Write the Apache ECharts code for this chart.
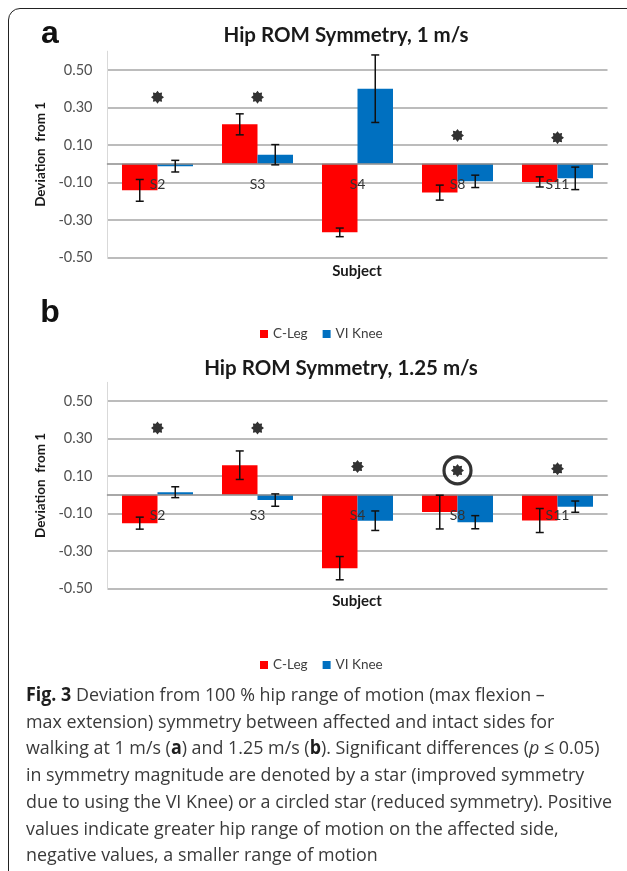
<!DOCTYPE html>
<html lang="en">
<head>
<meta charset="utf-8">
<script src="https://cdn.jsdelivr.net/npm/echarts@6/dist/echarts.min.js"></script>
<style>
  html, body { margin: 0; padding: 0; background: #fff; }
  #wrap { position: relative; width: 627px; height: 871px; overflow: hidden; }
  #chart { position: absolute; left: 0; top: 0; width: 627px; height: 680px; }
  #frame {
    position: absolute; left: 8px; top: 8px; width: 640px; height: 900px;
    border: 1.5px solid #222; border-radius: 12px; box-sizing: border-box;
  }
  #caption {
    position: absolute; left: 26px; top: 681px; white-space: nowrap;
    font-family: "Open Sans", sans-serif; font-size: 19px; line-height: 26.7px;
    color: #3a3a3a; transform-origin: 0 0;
  }
  #caption b { color: #1e1e1e; }
</style>
</head>
<body>
<div id="wrap">
  <div id="frame"></div>
  <div id="chart"></div>
  <div id="caption">
    <div><b>Fig. 3</b> Deviation from 100 % hip range of motion (max flexion –</div>
    <div>max extension) symmetry between affected and intact sides for</div>
    <div>walking at 1 m/s (<b>a</b>) and 1.25 m/s (<b>b</b>). Significant differences (<i>p</i> ≤ 0.05)</div>
    <div>in symmetry magnitude are denoted by a star (improved symmetry</div>
    <div id="longLine">due to using the VI Knee) or a circled star (reduced symmetry). Positive</div>
    <div>values indicate greater hip range of motion on the affected side,</div>
    <div>negative values, a smaller range of motion</div>
  </div>
</div>
<script>
  var categories = ['S2', 'S3', 'S4', 'S8', 'S11'];

  // panel a, 1 m/s
  var cLegA = [-0.142, 0.210, -0.366, -0.154, -0.097];
  var cLegErrA = [0.058, 0.056, 0.023, 0.040, 0.027];
  var viKneeA = [-0.013, 0.048, 0.400, -0.094, -0.078];
  var viKneeErrA = [0.031, 0.054, 0.180, 0.033, 0.060];
  var starsA = [0.355, 0.355, null, 0.151, 0.139];
  var circledA = [null, null, null, null, null];

  // panel b, 1.25 m/s
  var cLegB = [-0.151, 0.158, -0.391, -0.092, -0.137];
  var cLegErrB = [0.032, 0.076, 0.062, 0.090, 0.064];
  var viKneeB = [0.014, -0.028, -0.138, -0.146, -0.063];
  var viKneeErrB = [0.029, 0.033, 0.052, 0.035, 0.030];
  var starsB = [0.356, 0.356, 0.151, 0.130, 0.139];
  var circledB = [null, null, null, 0.130, null];

  var Y_MIN = -0.5, Y_MAX = 0.6;
  var GRID_H = 206.3;
  var RED = '#ff0000', BLUE = '#0070c0';
  var FONT = 'Lato';
  var BAR_FRAC = 0.355; // each bar's share of the category band

  function starPath(n, inner) {
    var d = '';
    for (var i = 0; i < 2 * n; i++) {
      var r = i % 2 ? inner : 1;
      var a = Math.PI * i / n - Math.PI / 2;
      d += (i ? 'L' : 'M') + (r * Math.cos(a)).toFixed(3) + ',' + (r * Math.sin(a)).toFixed(3);
    }
    return 'path://' + d + 'Z';
  }
  var STAR = starPath(8, 0.7);

  function errData(vals, errs, side) {
    return vals.map(function (v, i) { return [i, v, errs[i], side]; });
  }
  function dash(arr) {
    return arr.map(function (v) { return v == null ? '-' : v; });
  }

  function renderErr(params, api) {
    var x = api.value(0), v = api.value(1), e = api.value(2), side = api.value(3);
    var hi = api.coord([x, v + e]);
    var lo = api.coord([x, v - e]);
    var band = api.size([1, 0])[0];
    var cx = hi[0] + side * band * BAR_FRAC / 2;
    var cap = 4;
    var st = { stroke: '#111', lineWidth: 1.5 };
    return {
      type: 'group',
      children: [
        { type: 'line', shape: { x1: cx, y1: hi[1], x2: cx, y2: lo[1] }, style: st },
        { type: 'line', shape: { x1: cx - cap, y1: hi[1], x2: cx + cap, y2: hi[1] }, style: st },
        { type: 'line', shape: { x1: cx - cap, y1: lo[1], x2: cx + cap, y2: lo[1] }, style: st }
      ]
    };
  }

  // x axis sits on the zero line: shift it up from the grid bottom
  var zeroOffset = -GRID_H * (0 - Y_MIN) / (Y_MAX - Y_MIN);

  function axesFor(idx, top) {
    return {
      grid: { left: 107.5, top: top, width: 500, height: GRID_H },
      xAxis: {
        gridIndex: idx, type: 'category', data: categories, zlevel: 1,
        position: 'bottom', offset: zeroOffset,
        axisLine: { onZero: false, lineStyle: { color: '#8c8c8c', width: 1.5 } },
        axisTick: { length: 5, lineStyle: { color: '#8c8c8c', width: 1.2 } },
        axisLabel: { margin: 14, fontSize: 14, color: '#333', fontFamily: FONT },
        splitLine: { show: false }
      },
      yAxis: {
        gridIndex: idx, type: 'value', min: Y_MIN, max: Y_MAX, interval: 0.1,
        name: 'Deviation  from 1', nameLocation: 'middle', nameRotate: 90, nameGap: 52,
        nameTextStyle: { fontFamily: FONT, fontWeight: 'bold', fontSize: 13.5, color: '#1a1a1a' },
        axisLine: { show: true, lineStyle: { color: '#d9d9d9', width: 1 } },
        axisTick: { show: false },
        axisLabel: {
          margin: 15, fontSize: 14.5, color: '#505050', fontFamily: FONT,
          formatter: function (v) {
            var k = Math.round(v * 10);
            return k % 2 ? v.toFixed(2) : '';
          }
        },
        splitLine: { show: true, lineStyle: { color: ['#a6a6a6', 'rgba(0,0,0,0)'], width: 1.5 } }
      }
    };
  }

  function seriesFor(idx, cLeg, cLegErr, viKnee, viKneeErr, stars, circled) {
    var ax = { xAxisIndex: idx, yAxisIndex: idx };
    return [
      Object.assign({ type: 'bar', name: 'C-Leg', data: cLeg, itemStyle: { color: RED },
        barGap: '0%', barCategoryGap: '29%' }, ax),
      Object.assign({ type: 'bar', name: 'VI Knee', data: viKnee, itemStyle: { color: BLUE },
        barGap: '0%', barCategoryGap: '29%' }, ax),
      Object.assign({ type: 'custom', renderItem: renderErr, clip: false, zlevel: 1, z: 6,
        data: errData(cLeg, cLegErr, -1).concat(errData(viKnee, viKneeErr, 1)) }, ax),
      Object.assign({ type: 'scatter', data: dash(circled), symbol: 'circle', symbolSize: 27, z: 6,
        itemStyle: { color: '#fff', borderColor: '#000', borderWidth: 3.2 } }, ax),
      Object.assign({ type: 'scatter', data: dash(stars), symbol: STAR, symbolSize: 13, z: 7,
        itemStyle: { color: '#000' } }, ax)
    ];
  }

  var a = axesFor(0, 51.2), b = axesFor(1, 382.3);

  function txt(x, y, text, size, weight, family, color) {
    return {
      type: 'text', x: x, y: y,
      style: { text: text, fontSize: size, fontWeight: weight, fontFamily: family,
        fill: color, align: 'center', verticalAlign: 'middle' }
    };
  }

  var legendBase = {
    data: ['C-Leg', 'VI Knee'], icon: 'rect', itemWidth: 8, itemHeight: 8, itemGap: 15,
    textStyle: { fontFamily: FONT, fontSize: 13.5, color: '#404040' }
  };

  var chart = echarts.init(document.getElementById('chart'));
  chart.setOption({
    animation: false,
    backgroundColor: 'transparent',
    grid: [a.grid, b.grid],
    xAxis: [a.xAxis, b.xAxis],
    yAxis: [a.yAxis, b.yAxis],
    legend: [
      Object.assign({ left: 255, top: 322 }, legendBase),
      Object.assign({ left: 255, top: 653 }, legendBase)
    ],
    graphic: [
      txt(50, 34.5, 'a', 32, 'bold', 'Liberation Sans', '#111'),
      txt(50, 313, 'b', 32, 'bold', 'Liberation Sans', '#111'),
      txt(346, 35, 'Hip ROM Symmetry, 1 m/s', 20.5, 'bold', FONT, '#1a1a1a'),
      txt(341, 368, 'Hip ROM Symmetry, 1.25 m/s', 20.5, 'bold', FONT, '#1a1a1a'),
      txt(357, 271, 'Subject', 15, 'bold', FONT, '#1a1a1a'),
      txt(357, 601, 'Subject', 15, 'bold', FONT, '#1a1a1a')
    ],
    series: seriesFor(0, cLegA, cLegErrA, viKneeA, viKneeErrA, starsA, circledA)
      .concat(seriesFor(1, cLegB, cLegErrB, viKneeB, viKneeErrB, starsB, circledB))
  });

  // squeeze the caption so its longest line spans the same width as in the figure
  var cap = document.getElementById('caption');
  var range = document.createRange();
  range.selectNodeContents(document.getElementById('longLine'));
  var tw = range.getBoundingClientRect().width;
  cap.style.transform = 'scaleX(' + (586 / tw).toFixed(4) + ')';
</script>
</body>
</html>
